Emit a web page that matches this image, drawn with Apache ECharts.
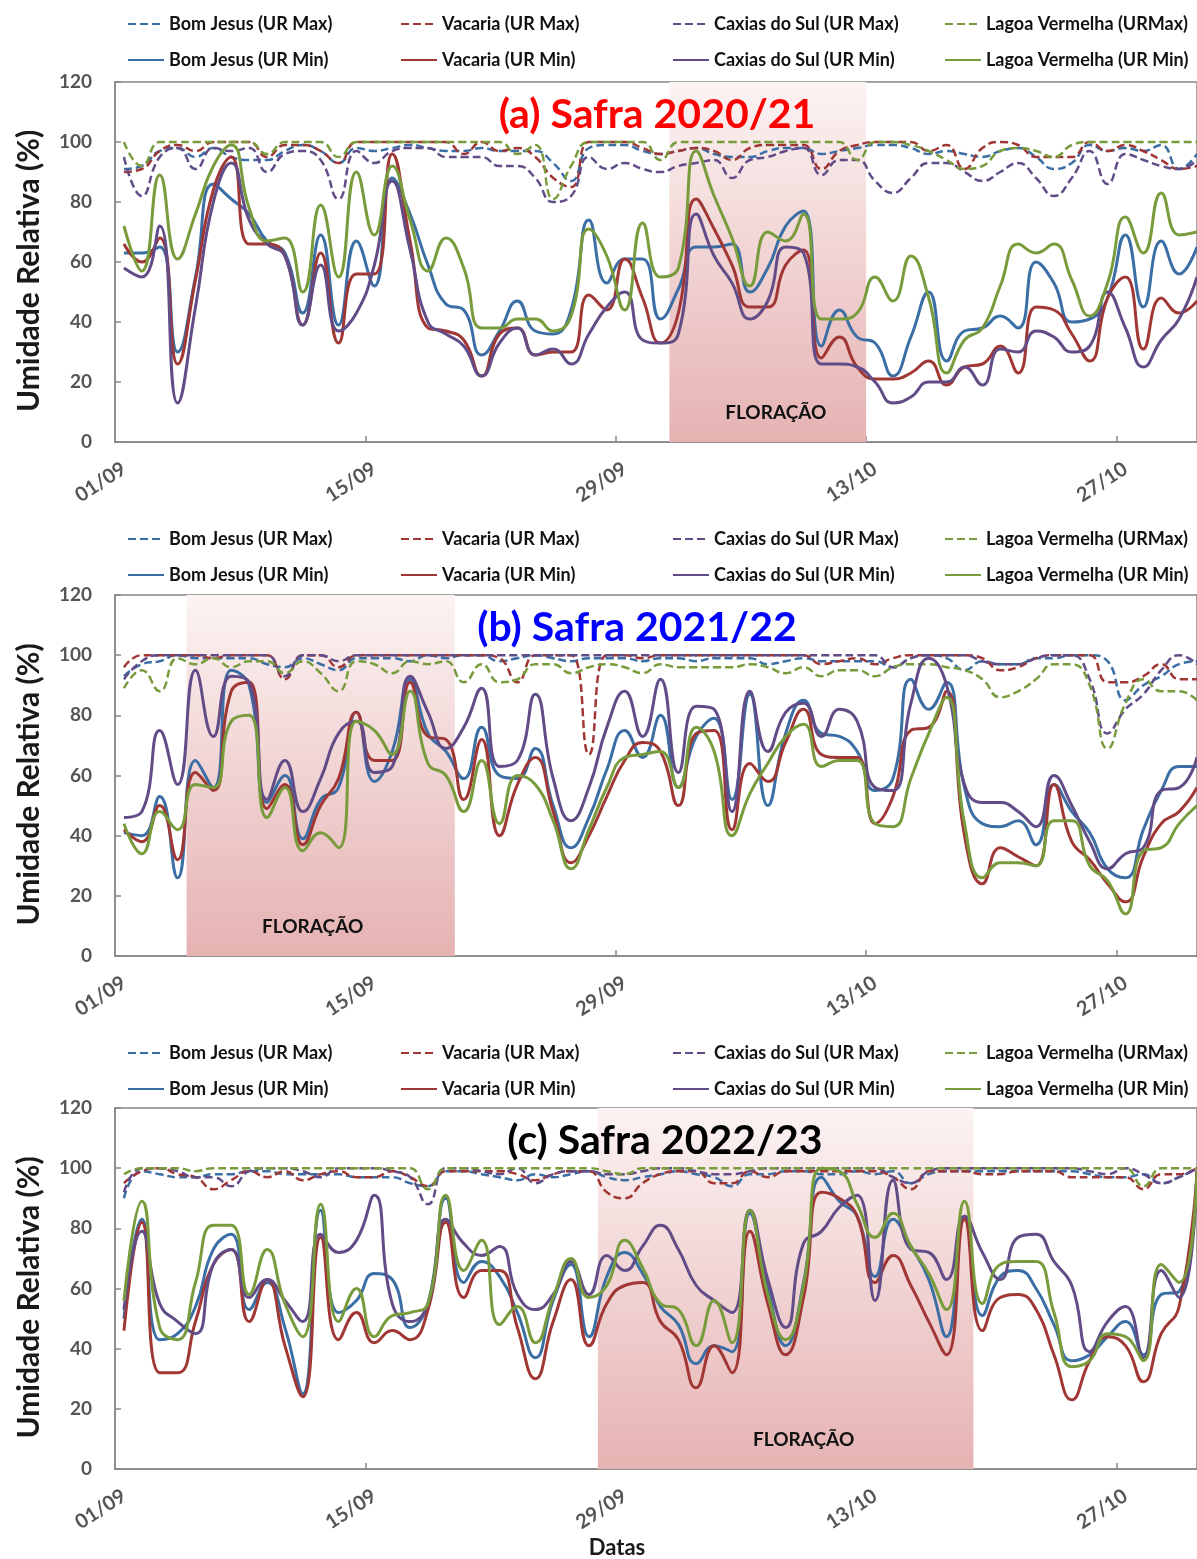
<!DOCTYPE html>
<html>
<head>
<meta charset="utf-8">
<script src="https://cdn.jsdelivr.net/npm/echarts@6/dist/echarts.min.js"></script>
<style>
html, body { margin: 0; padding: 0; background: #fff; }
#chart { width: 1197px; height: 1559px; }
</style>
</head>
<body>
<div id="chart"></div>
<script>
// dias (01/09 a 31/10)
var dates = ['01/09','02/09','03/09','04/09','05/09','06/09','07/09','08/09','09/09','10/09',
  '11/09','12/09','13/09','14/09','15/09','16/09','17/09','18/09','19/09','20/09',
  '21/09','22/09','23/09','24/09','25/09','26/09','27/09','28/09','29/09','30/09',
  '01/10','02/10','03/10','04/10','05/10','06/10','07/10','08/10','09/10','10/10',
  '11/10','12/10','13/10','14/10','15/10','16/10','17/10','18/10','19/10','20/10',
  '21/10','22/10','23/10','24/10','25/10','26/10','27/10','28/10','29/10','30/10','31/10'];
var tickLabels = ['01/09','15/09','29/09','13/10','27/10'];

var maxNames = ['Bom Jesus (UR Max)','Vacaria (UR Max)','Caxias do Sul (UR Max)','Lagoa Vermelha (URMax)'];
var minNames = ['Bom Jesus (UR Min)','Vacaria (UR Min)','Caxias do Sul (UR Min)','Lagoa Vermelha (UR Min)'];
var colors = ['#3A6EA5','#A03734','#624C87','#789B3C'];

// (a) Safra 2020/21
var a_bjMax = [91,92,97,98,95,98,95,94,94,97, 99,97,93,98,97,98,99,98,97,97, 98,97,97,97,93,87,98,99,99,97, 96,97,98,96,95,95,97,98,98,96, 97,98,99,99,98,96,97,96,95,97, 98,95,91,93,99,97,98,97,99,91, 96];
var a_vaMax = [90,91,97,99,97,100,100,100,95,99, 99,97,93,100,100,100,100,100,100,96, 100,97,98,95,88,85,100,100,100,98, 96,97,98,97,94,98,99,99,99,91, 97,99,100,100,100,97,99,91,98,100, 99,95,95,95,100,97,99,97,94,91, 92];
var a_cxMax = [95,82,95,98,91,98,97,98,90,96, 97,94,81,97,93,97,98,98,95,95, 95,92,92,88,80,82,95,91,93,91, 90,92,93,94,88,94,95,97,98,89, 94,94,87,83,88,93,93,90,87,90, 93,88,82,88,97,86,96,94,92,91, 94];
var a_lvMax = [100,92,100,100,100,100,100,100,96,100, 100,100,95,100,100,100,100,100,100,100, 100,100,96,99,81,92,100,100,100,100, 94,100,100,100,100,100,100,100,100,100, 100,94,100,100,99,97,94,91,92,97, 98,97,95,99,100,100,100,100,100,100, 100];
var a_bjMin = [63,63,65,30,55,86,81,76,67,63, 43,69,39,67,52,88,76,59,46,44, 29,37,47,37,36,44,74,53,61,61, 41,51,65,65,66,50,58,72,77,32, 44,35,33,22,35,50,27,37,38,42, 38,60,53,40,41,48,69,45,67,56, 65];
var a_vaMin = [66,60,68,26,54,84,95,66,66,62, 39,63,33,56,56,96,67,38,37,34, 22,36,38,29,30,30,49,44,61,48, 33,43,81,71,59,45,45,59,64,28, 35,25,21,21,23,27,19,25,26,32, 23,45,44,36,27,48,55,31,48,43, 47];
var a_cxMin = [58,55,72,13,45,80,93,74,66,62, 39,59,37,43,59,87,64,40,36,32, 22,33,38,29,31,26,36,45,50,34, 33,36,76,62,53,41,47,65,63,26, 26,25,20,13,15,20,20,25,19,31, 30,37,35,30,32,50,38,25,34,41, 55];
var a_lvMin = [72,57,89,61,76,92,99,78,67,68, 50,79,55,90,69,92,74,57,68,58, 38,38,41,41,37,42,71,62,44,73, 55,58,97,82,68,52,70,67,76,41, 41,43,55,47,62,48,23,34,38,52, 66,63,66,54,42,53,75,63,83,69, 70];

// (b) Safra 2021/22
var b_bjMax = [93,97,98,100,99,99,99,99,97,96, 99,97,95,99,99,99,98,100,99,100, 100,98,99,100,99,98,99,99,99,98, 99,99,98,99,99,99,97,98,99,98, 98,98,98,96,99,100,99,95,98,97, 97,99,99,100,100,98,85,90,93,97, 98];
var b_vaMax = [96,100,100,100,100,99,100,100,100,92, 100,100,96,100,100,100,100,100,100,100, 100,99,91,100,100,100,67,100,100,99, 100,100,100,100,100,100,100,100,100,97, 98,99,97,99,100,100,100,100,99,95, 96,99,100,100,100,91,91,93,97,92, 92];
var b_cxMax = [92,98,100,100,100,100,100,100,100,93, 100,100,98,100,100,100,100,100,100,100, 100,100,100,100,100,100,100,100,100,100, 100,100,100,100,100,100,100,100,100,100, 100,100,100,96,99,100,100,100,98,97, 97,99,100,100,92,74,82,87,95,100, 97];
var b_lvMax = [89,95,88,99,97,99,96,98,98,94, 98,94,88,98,97,94,98,97,98,91, 97,91,92,97,97,94,96,97,96,94, 97,96,96,96,96,97,96,94,96,93, 95,95,93,96,97,97,96,95,92,86, 88,92,97,97,90,69,84,92,88,88, 85];
var b_bjMin = [41,40,53,26,65,56,95,90,51,60, 39,52,56,81,58,68,92,74,68,59, 76,60,59,69,50,36,46,62,75,66, 80,56,73,79,52,87,50,74,85,74, 73,68,55,59,92,82,91,56,44,43, 45,37,57,48,41,29,26,42,55,63, 63];
var b_vaMin = [42,38,50,32,61,55,88,91,49,57, 37,50,59,81,65,65,91,73,72,52, 72,40,57,66,48,31,40,53,65,71, 68,50,74,75,42,64,58,71,82,67, 66,66,44,53,75,76,88,40,24,36, 33,30,57,38,32,24,18,33,44,48, 56];
var b_cxMin = [46,48,75,57,95,73,93,91,52,65, 48,59,74,78,61,63,93,81,69,76, 89,63,65,87,59,45,56,76,88,73, 92,61,83,82,48,88,68,81,84,73, 82,78,56,55,84,99,90,57,51,51, 48,43,60,50,38,29,34,36,55,56, 66];
var b_lvMin = [44,34,48,42,57,56,78,80,46,56, 35,41,36,78,75,67,88,64,60,48, 65,44,60,57,45,29,42,56,66,67, 68,56,76,68,40,54,64,73,77,63, 65,65,44,43,59,74,86,44,26,31, 31,30,45,45,30,25,14,35,36,44, 50];

// (c) Safra 2022/23
var c_bjMax = [90,99,98,97,97,98,98,99,99,98, 98,98,98,97,97,97,95,94,99,99, 98,97,96,98,97,98,99,97,96,97, 98,99,98,97,94,98,98,99,99,98, 98,99,98,99,95,98,99,99,99,99, 99,99,99,99,98,97,97,98,95,97, 100];
var c_vaMax = [95,99,100,98,97,93,96,99,97,99, 96,98,99,97,97,99,97,94,99,99, 99,99,98,96,98,99,99,92,90,95, 98,99,99,95,95,99,97,99,99,99, 99,99,99,97,93,99,99,99,98,98, 99,99,99,97,97,97,97,93,98,98, 100];
var c_cxMax = [92,100,100,99,97,97,94,99,100,100, 99,97,100,100,100,99,97,88,100,100, 99,98,100,95,98,99,99,98,98,99, 100,100,99,98,98,99,100,100,100,100, 100,100,100,97,95,99,100,100,100,100, 100,100,100,100,99,98,100,98,95,97, 100];
var c_lvMax = [98,100,100,100,99,100,100,100,100,100, 100,100,100,100,100,100,100,93,100,100, 100,100,100,100,100,100,100,99,98,100, 100,100,100,100,100,100,100,100,100,100, 100,100,100,100,100,100,100,100,100,100, 100,100,100,100,100,100,100,94,100,100, 100];
var c_bjMin = [50,83,43,45,54,73,78,53,62,47, 25,86,52,56,65,63,47,55,90,62, 69,64,52,37,56,68,44,64,72,65, 54,48,35,41,39,85,60,41,62,97, 89,84,64,83,74,63,44,84,51,64, 66,60,48,36,38,44,49,38,58,59, 99];
var c_vaMin = [46,82,32,32,49,68,73,49,63,41, 24,77,43,52,42,46,43,53,82,57, 66,66,47,30,49,63,41,55,61,62, 49,43,27,41,32,79,55,38,57,92, 90,84,62,71,61,49,38,83,46,57, 58,53,38,23,36,44,41,29,45,54, 99];
var c_cxMin = [53,79,55,49,45,68,73,57,63,56, 49,78,72,76,91,55,49,55,83,75, 71,74,58,53,58,69,58,71,66,74, 81,73,61,56,52,86,63,47,75,79, 87,91,56,96,73,72,63,84,72,63, 77,78,69,61,39,49,54,37,66,57, 99];
var c_lvMin = [56,89,47,43,62,81,81,58,73,55, 44,88,49,60,44,51,52,55,91,66, 76,48,54,42,57,70,57,61,76,67, 55,53,41,56,42,86,58,43,61,100, 99,88,77,85,74,65,53,89,55,68, 69,69,52,34,36,45,44,36,68,62, 99];

// período de floração (primeiro e último dia)
var floraA = ['02/10','12/10'];
var floraB = ['05/09','19/09'];
var floraC = ['28/09','18/10'];

var FONT = 'Lato, "Open Sans", sans-serif';

var panels = [
  { top: 82,   height: 360, legendTop: 9,    flora: floraA, floraDx: 8,
    title: '(a) Safra 2020/21', titleColor: '#ff0000', titleX: 657, titleY: 115,
    maxs: [a_bjMax, a_vaMax, a_cxMax, a_lvMax], mins: [a_bjMin, a_vaMin, a_cxMin, a_lvMin] },
  { top: 595,  height: 361, legendTop: 524,  flora: floraB, floraDx: -8,
    title: '(b) Safra 2021/22', titleColor: '#0000ff', titleX: 637, titleY: 628,
    maxs: [b_bjMax, b_vaMax, b_cxMax, b_lvMax], mins: [b_bjMin, b_vaMin, b_cxMin, b_lvMin] },
  { top: 1108, height: 361, legendTop: 1038, flora: floraC, floraDx: 18,
    title: '(c) Safra 2022/23', titleColor: '#000000', titleX: 665, titleY: 1141,
    maxs: [c_bjMax, c_vaMax, c_cxMax, c_lvMax], mins: [c_bjMin, c_vaMin, c_cxMin, c_lvMin] }
];

var legendX = [122, 395, 667, 939];

function toPoints(arr) {
  return arr.map(function (v, i) { return [i, v]; });
}

var grids = [], xAxes = [], yAxes = [], series = [], legends = [], graphics = [];

panels.forEach(function (p, pi) {
  // o gráfico original está cortado à direita: o último dia fica na borda
  grids.push({
    left: 115, top: p.top, width: 1082, height: p.height,
    show: true, borderColor: '#878787', borderWidth: 1.5, backgroundColor: 'transparent'
  });
  xAxes.push({
    type: 'value', gridIndex: pi, min: -0.5, max: 60,
    splitLine: { show: false },
    axisLine: { show: true, onZero: false, lineStyle: { color: '#878787', width: 1.5 } },
    axisTick: { show: true, inside: true, length: 6, lineStyle: { color: '#878787', width: 1.5 },
      customValues: [13.5, 27.5, 41.5, 55.5] },
    axisLabel: {
      customValues: tickLabels.map(function (t) { return dates.indexOf(t); }),
      formatter: function (v) { return dates[Math.round(v)]; },
      rotate: 33, margin: 25, fontSize: 20, fontWeight: 'bold', color: '#555', fontFamily: FONT
    }
  });
  yAxes.push({
    type: 'value', gridIndex: pi, min: 0, max: 120, interval: 20,
    name: 'Umidade Relativa (%)', nameLocation: 'middle', nameGap: 71,
    nameTextStyle: { fontSize: 30, fontWeight: 'bold', color: '#1a1a1a', fontFamily: FONT, padding: [0, 18, 0, 0] },
    splitLine: { show: false },
    axisLine: { show: true, onZero: false, lineStyle: { color: '#878787', width: 1.5 } },
    axisTick: { show: true, inside: true, length: 6, lineStyle: { color: '#878787', width: 1.5 } },
    axisLabel: { fontSize: 19, fontWeight: 'bold', color: '#555', fontFamily: FONT, margin: 23 }
  });

  // faixa da floração
  var s = dates.indexOf(p.flora[0]) - 0.5, e = dates.indexOf(p.flora[1]) + 0.5;
  series.push({
    type: 'line', xAxisIndex: pi, yAxisIndex: pi, data: [], z: 1, silent: true,
    markArea: {
      silent: true,
      itemStyle: {
        color: { type: 'linear', x: 0, y: 0, x2: 0, y2: 1,
          colorStops: [{ offset: 0, color: '#fcf3f3' }, { offset: 1, color: '#e6b2b2' }] }
      },
      label: {
        show: true, position: 'insideBottom', distance: 20, offset: [p.floraDx, 0],
        fontSize: 19, fontWeight: 'bold', color: '#111', fontFamily: FONT
      },
      data: [[{ name: 'FLORAÇÃO', xAxis: s }, { xAxis: e }]]
    }
  });

  p.maxs.forEach(function (arr, k) {
    series.push({
      name: maxNames[k], type: 'line', xAxisIndex: pi, yAxisIndex: pi,
      data: toPoints(arr), smooth: 0.5, symbol: 'none', z: 2,
      lineStyle: { color: colors[k], width: 2.5, type: [8, 4] },
      itemStyle: { color: colors[k] }
    });
  });
  p.mins.forEach(function (arr, k) {
    series.push({
      name: minNames[k], type: 'line', xAxisIndex: pi, yAxisIndex: pi,
      data: toPoints(arr), smooth: 0.5, symbol: 'none', z: 3,
      lineStyle: { color: colors[k], width: 3 },
      itemStyle: { color: colors[k] }
    });
  });

  for (var k = 0; k < 4; k++) {
    legends.push({
      orient: 'vertical', left: legendX[k], top: p.legendTop,
      itemWidth: 36, itemHeight: 14, itemGap: 16, selectedMode: false,
      itemStyle: { opacity: 0, color: 'transparent', borderWidth: 0 },
      data: [maxNames[k], minNames[k]],
      textStyle: { fontSize: 18, fontWeight: 'bold', color: '#111', fontFamily: FONT, lineHeight: 20 }
    });
  }

  graphics.push({
    type: 'text', x: p.titleX, y: p.titleY, z: 100,
    style: { text: p.title, fill: p.titleColor, font: 'bold 41px ' + FONT, align: 'center', verticalAlign: 'middle' }
  });
});

graphics.push({
  type: 'text', x: 617, y: 1548, z: 100,
  style: { text: 'Datas', fill: '#1a1a1a', font: 'bold 22px ' + FONT, align: 'center', verticalAlign: 'middle' }
});

var chart = echarts.init(document.getElementById('chart'));
chart.setOption({
  animation: false,
  backgroundColor: '#fff',
  grid: grids,
  xAxis: xAxes,
  yAxis: yAxes,
  legend: legends,
  graphic: graphics,
  series: series
});
</script>
</body>
</html>
